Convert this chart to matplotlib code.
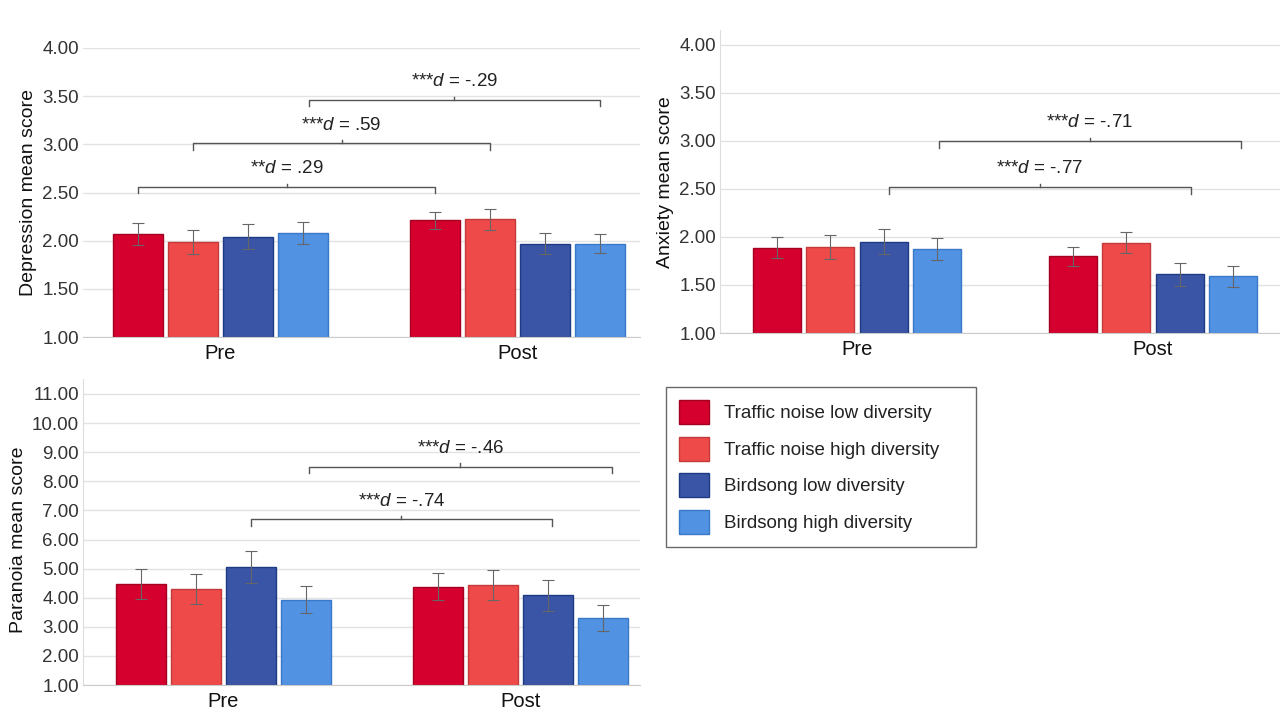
import numpy as np
import matplotlib
matplotlib.use("Agg")
import matplotlib.pyplot as plt
from matplotlib.patches import Patch

plt.rcParams['font.family'] = ['Liberation Sans', 'DejaVu Sans']
plt.rcParams['mathtext.fontset'] = 'custom'
plt.rcParams['mathtext.rm'] = 'Liberation Sans'
plt.rcParams['mathtext.it'] = 'Liberation Sans:italic'

# ---- data ----
times = ["Pre", "Post"]
conditions = ["Traffic noise low diversity", "Traffic noise high diversity",
              "Birdsong low diversity", "Birdsong high diversity"]
colors = ["#d5002d", "#ee4a4a", "#3a55a5", "#5192e2"]
edges = ["#a30022", "#c43a3a", "#1f3a85", "#3a78c8"]

# rows = condition, cols = [Pre, Post]
depression_mean = [[2.07, 2.21], [1.99, 2.22], [2.04, 1.97], [2.08, 1.97]]
depression_err = [[0.115, 0.09], [0.125, 0.11], [0.13, 0.11], [0.11, 0.095]]
anxiety_mean = [[1.89, 1.80], [1.90, 1.94], [1.95, 1.61], [1.87, 1.59]]
anxiety_err = [[0.11, 0.10], [0.125, 0.11], [0.13, 0.12], [0.115, 0.11]]
paranoia_mean = [[4.47, 4.38], [4.30, 4.43], [5.05, 4.09], [3.93, 3.30]]
paranoia_err = [[0.51, 0.47], [0.50, 0.52], [0.55, 0.53], [0.47, 0.45]]

# effect-size brackets: (label, x start, x end, height), x in bar units from the Pre centre
depression_brackets = [("**$\\it{d}$ = .29", -1.5, 3.9, 2.56),
                       ("***$\\it{d}$ = .59", -0.5, 4.9, 3.01),
                       ("***$\\it{d}$ = -.29", 1.6, 6.9, 3.46)]
anxiety_brackets = [("***$\\it{d}$ = -.77", 0.6, 6.24, 2.52),
                    ("***$\\it{d}$ = -.71", 1.53, 7.18, 3.00)]
paranoia_brackets = [("***$\\it{d}$ = -.74", 0.5, 5.97, 6.69),
                     ("***$\\it{d}$ = -.46", 1.55, 7.06, 8.50)]

W, H = 1280, 719
fig = plt.figure(figsize=(W / 100, H / 100), dpi=100)


def px_axes(x0, x1, ytop, ybot):
    return fig.add_axes([x0 / W, 1 - ybot / H, (x1 - x0) / W, (ybot - ytop) / H])


offsets = np.array([-1.5, -0.5, 0.5, 1.5])


def draw_panel(ax, means, errs, brackets, ylim, ticks, ylabel, xlim, gap,
               left_spine, label_x, label_y=0.5):
    means = np.array(means)
    errs = np.array(errs)
    for g in range(2):
        for c in range(4):
            x = g * gap + offsets[c]
            ax.bar(x, means[c, g] - ylim[0], bottom=ylim[0], width=0.9,
                   color=colors[c], edgecolor=edges[c], linewidth=1.0, zorder=2)
            ax.errorbar(x, means[c, g], yerr=errs[c, g], color="#666666",
                        elinewidth=0.8, capsize=4.5, capthick=0.8, zorder=3)
    ax.set_ylim(ylim)
    ax.set_xlim(xlim)
    ax.set_yticks(ticks)
    ax.set_yticklabels(["%.2f" % t for t in ticks])
    ax.set_xticks([0, gap])
    ax.set_xticklabels(times, fontsize=14.5, color="#111111")
    ax.tick_params(axis="x", length=0, pad=5)
    ax.tick_params(axis="y", length=0, labelsize=13.5, labelcolor="#333333", pad=3)
    ax.grid(axis="y", color="#e3e3e3", linewidth=1.0, zorder=0)
    ax.set_axisbelow(True)
    for s in ["top", "right"]:
        ax.spines[s].set_visible(False)
    ax.spines["left"].set_visible(left_spine)
    ax.spines["left"].set_color("#dddddd")
    ax.spines["bottom"].set_color("#cccccc")
    ax.set_ylabel(ylabel, fontsize=14, color="#111111")
    ax.yaxis.set_label_coords(label_x, label_y)

    drop = 0.022 * (ylim[1] - ylim[0])
    for label, x0, x1, yb in brackets:
        ax.plot([x0, x0, x1, x1], [yb - drop, yb, yb, yb - drop],
                color="#555555", linewidth=1.0, zorder=4)
        xm = (x0 + x1) / 2
        ax.plot([xm, xm], [yb, yb + drop * 0.5], color="#555555", linewidth=1.0)
        ax.annotate(label, (xm, yb), xytext=(0, 7), textcoords="offset points",
                    ha="center", va="bottom", fontsize=13.5, color="#222222")


# Depression (top left)
ax1 = px_axes(83, 640, 48, 337)
draw_panel(ax1, depression_mean, depression_err, depression_brackets,
           (1.0, 4.0), np.arange(1.0, 4.01, 0.5), "Depression mean score",
           ((83 - 220.5) / 55, (640 - 220.5) / 55), 297 / 55, False,
           (37 - 83) / (640 - 83))

# Anxiety (top right)
ax2 = px_axes(720, 1280, 45 - 0.15 * 96.7, 333)
draw_panel(ax2, anxiety_mean, anxiety_err, anxiety_brackets,
           (1.0, 4.15), np.arange(1.0, 4.01, 0.5), "Anxiety mean score",
           ((720 - 857) / 53.5, (1280 - 857) / 53.5), 296 / 53.5, True,
           (674 - 720) / (1280 - 720))

# Paranoia (bottom left)
ax3 = px_axes(83, 640, 394 - 0.5 * 29.1, 685)
draw_panel(ax3, paranoia_mean, paranoia_err, paranoia_brackets,
           (1.0, 11.5), np.arange(1.0, 11.01, 1.0), "Paranoia mean score",
           ((83 - 223.5) / 55, (640 - 223.5) / 55), 297 / 55, True,
           (27 - 83) / (640 - 83), 0.475)

handles = [Patch(facecolor=colors[i], edgecolor=edges[i]) for i in range(4)]
leg = fig.legend(handles, conditions, loc="upper left", mode="expand",
                 bbox_to_anchor=(666 / W, 1 - 547 / H, 310 / W, 160 / H),
                 borderaxespad=0, fontsize=13.5, handlelength=1.6,
                 handleheight=1.6, handletextpad=0.8, labelspacing=0.66,
                 borderpad=0.7, fancybox=False, frameon=True)
leg.get_frame().set_edgecolor("#444444")
leg.get_frame().set_linewidth(1.0)
for t in leg.get_texts():
    t.set_color("#222222")

fig.savefig("out.png", dpi=100, facecolor="white")
